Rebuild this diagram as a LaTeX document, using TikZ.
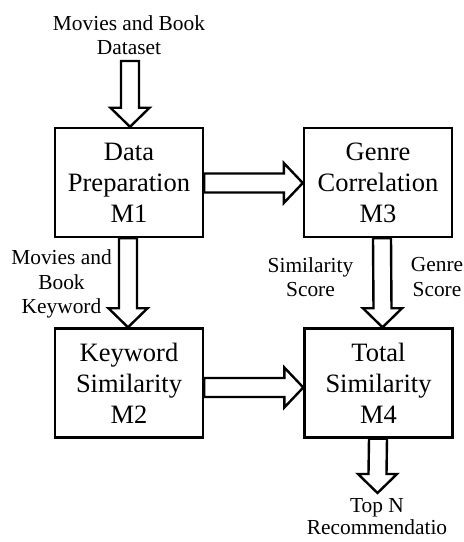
\documentclass[tikz,border=0pt]{standalone}
\usepackage{fontspec}
\setmainfont{Liberation Serif}
\usetikzlibrary{calc}

\tikzset{
  module/.style={draw, line width=2.4pt, minimum width=148pt, minimum height=109pt,
    inner sep=0pt, align=center, font=\fontsize{26.5}{31}\selectfont},
  flowlabel/.style={inner sep=0pt, align=center, font=\fontsize{21.4}{24.5}\selectfont},
  blockarrow/.style={draw, fill=white, line width=2.4pt, line join=miter}
}

% hollow block arrow pointing down: from, to, x offset
\newcommand{\vblock}[3]{%
  \draw[blockarrow] ($(#1)+(#3-9,0)$) -- ($(#2)+(#3-9,19)$) -- ($(#2)+(#3-19.5,19)$)
    -- ($(#2)+(#3,0)$) -- ($(#2)+(#3+19.5,19)$) -- ($(#2)+(#3+9,19)$)
    -- ($(#1)+(#3+9,0)$) -- cycle;}
% hollow block arrow pointing right: from, to, y offset
\newcommand{\hblock}[3]{%
  \draw[blockarrow] ($(#1)+(0,#3+9.5)$) -- ($(#2)+(-19,#3+9.5)$) -- ($(#2)+(-19,#3+20)$)
    -- ($(#2)+(0,#3)$) -- ($(#2)+(-19,#3-20)$) -- ($(#2)+(-19,#3-9.5)$)
    -- ($(#1)+(0,#3-9.5)$) -- cycle;}

\begin{document}
\begin{tikzpicture}[x=1pt, y=1pt]
  \useasboundingbox (0,0) rectangle (464,542);

  % modules
  \node[module] (m1) at (129,359.5) {Data\\Preparation\\M1};
  \node[module] (m3) at (378,359.5) {Genre\\Correlation\\M3};
  \node[module] (m2) at (129,159) {Keyword\\Similarity\\M2};
  \node[module] (m4) at (378.5,159) {Total\\Similarity\\M4};

  % input and output
  \node[flowlabel] (src) at (129,507) {Movies and Book\\Dataset};
  \coordinate (srcend) at (129,481);
  \coordinate (outend) at (378,49);
  \node[flowlabel, font=\fontsize{21.4}{22}\selectfont] (out) at (377,25) {Top N\\Recommendatio};

  % flows
  \vblock{srcend}{m1.north}{1}
  \vblock{m1.south}{m2.north}{-1}
  \hblock{m1.east}{m3.west}{-0.5}
  \vblock{m3.south}{m4.north}{4}
  \hblock{m2.east}{m4.west}{-4.5}
  \vblock{m4.south}{outend}{-0.5}

  % flow labels
  \node[flowlabel] (kw) at (61.5,258) {Movies and\\Book\\Keyword};
  \node[flowlabel] (sim) at (310.5,265) {Similarity\\Score};
  \node[flowlabel] (gen) at (437,265) {Genre\\Score};
\end{tikzpicture}
\end{document}
